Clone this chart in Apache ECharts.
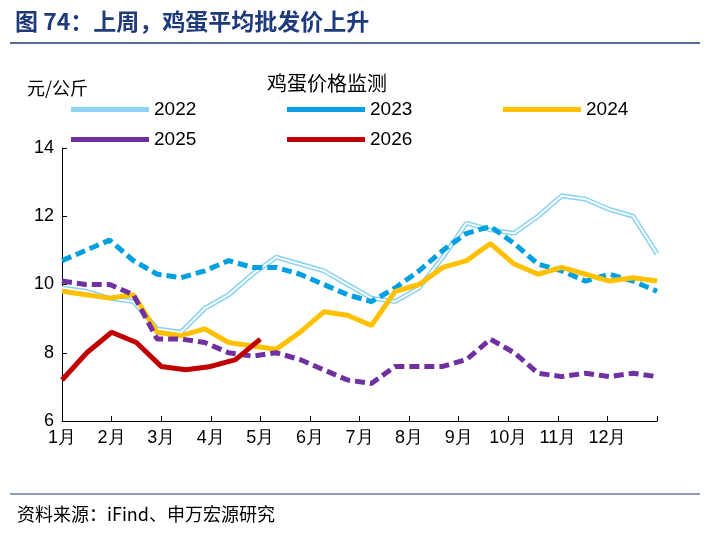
<!DOCTYPE html>
<html><head><meta charset="utf-8">
<script src="https://cdn.jsdelivr.net/npm/echarts@6/dist/echarts.min.js"></script>
<style>body{margin:0}#c{width:708px;height:534px}</style></head>
<body><div id="c"></div>
<script>
// two points per month, x = index / 2 (month offset from Jan 1)
var y2022 = [9.9,9.8,9.6,9.5,8.7,8.6,9.3,9.7,10.3,10.8,10.6,10.4,10.0,9.6,9.5,9.9,10.8,11.8,11.6,11.5,12.0,12.6,12.5,12.2,12.0,10.9]
var y2023 = [10.7,11.0,11.3,10.7,10.3,10.2,10.4,10.7,10.5,10.5,10.3,10.0,9.7,9.5,9.9,10.4,11.0,11.5,11.7,11.2,10.6,10.4,10.1,10.3,10.1,9.8]
var y2024 = [9.8,9.7,9.6,9.7,8.6,8.5,8.7,8.3,8.2,8.1,8.6,9.2,9.1,8.8,9.8,10.0,10.5,10.7,11.2,10.6,10.3,10.5,10.3,10.1,10.2,10.1]
var y2025 = [10.1,10.0,10.0,9.7,8.4,8.4,8.3,8.0,7.9,8.0,7.8,7.5,7.2,7.1,7.6,7.6,7.6,7.8,8.4,8.0,7.4,7.3,7.4,7.3,7.4,7.3]
var y2026 = [7.2,8.0,8.6,8.3,7.6,7.5,7.6,7.8,8.4]
var monthLabels = ['1月','2月','3月','4月','5月','6月','7月','8月','9月','10月','11月','12月']

var pts = (arr) => arr.map((v, i) => [i * 12 / Math.max(arr.length - 1, 24), v])
var chart = echarts.init(document.getElementById('c'))
var font = 'Liberation Sans, Arial, sans-serif'
var leg = (name, left, top) => ({
	data: [{ name: name, icon: 'rect' }], left: left, top: top, itemWidth: 78, itemHeight: 5, itemGap: 6,
	textStyle: { fontSize: 19, color: '#000', fontFamily: font },
})
chart.setOption({
	animation: false,
	title: [
		{ text: '图 74：上周，鸡蛋平均批发价上升', left: 10, top: 5, textStyle: { fontSize: 23, fontWeight: 'bold', color: '#1f3a7a', fontFamily: 'Noto Sans CJK SC' } },
		{ text: '资料来源：iFind、申万宏源研究', left: 12, top: 500, textStyle: { fontSize: 18, fontWeight: 'normal', color: '#000', fontFamily: 'Noto Sans CJK SC' } },
		{ text: '鸡蛋价格监测', left: 262, top: 68, textStyle: { fontSize: 20, fontWeight: 'normal', color: '#000', fontFamily: 'Noto Sans CJK SC' } },
		{ text: '元/公斤', left: 22, top: 74, textStyle: { fontSize: 18, fontWeight: 'normal', color: '#000', fontFamily: 'Noto Sans CJK SC' } },
	],
	graphic: [
		{ type: 'line', shape: { x1: 10, y1: 43, x2: 700, y2: 43 }, style: { stroke: '#1f3a7a', lineWidth: 1.5 } },
		{ type: 'line', shape: { x1: 10, y1: 494, x2: 700, y2: 494 }, style: { stroke: '#1f3a7a', lineWidth: 1 } },
	],
	legend: [leg('2022', 66, 95), leg('2023', 282, 95), leg('2024', 498, 95), leg('2025', 66, 125), leg('2026', 282, 125)],
	grid: { left: 62, right: 51, top: 148, bottom: 113 },
	xAxis: {
		type: 'value', min: 0, max: 12, interval: 1,
		axisLine: { lineStyle: { color: '#000' } }, axisTick: { show: true, inside: true, length: 5, lineStyle: { color: '#000' } },
		splitLine: { show: false },
		axisLabel: { fontSize: 18, color: '#000', fontFamily: font, formatter: (v) => monthLabels[v] || '' },
	},
	yAxis: {
		type: 'value', min: 6, max: 14, interval: 2,
		axisLine: { show: true, lineStyle: { color: '#000' } }, axisTick: { show: true, inside: true, length: 5, lineStyle: { color: '#000' } },
		splitLine: { show: false },
		axisLabel: { fontSize: 18, color: '#000', fontFamily: font },
	},
	series: [
		{ name: '2022', type: 'line', data: pts(y2022), symbol: 'none', lineStyle: { color: '#8fd3f2', width: 5 }, itemStyle: { color: '#8fd3f2' } },
		{ name: '2022w', type: 'line', data: pts(y2022), symbol: 'none', lineStyle: { color: '#fff', width: 1.8 } },
		{ name: '2023', type: 'line', data: pts(y2023), symbol: 'none', lineStyle: { color: '#00a0e0', width: 5, type: [10, 5] }, itemStyle: { color: '#00a0e0' } },
		{ name: '2024', type: 'line', data: pts(y2024), symbol: 'none', lineStyle: { color: '#ffc000', width: 5 }, itemStyle: { color: '#ffc000' } },
		{ name: '2025', type: 'line', data: pts(y2025), symbol: 'none', lineStyle: { color: '#7030a0', width: 5, type: [10, 5] }, itemStyle: { color: '#7030a0' } },
		{ name: '2026', type: 'line', data: pts(y2026), symbol: 'none', lineStyle: { color: '#c00000', width: 5 }, itemStyle: { color: '#c00000' } },
	],
})
</script></body></html>
